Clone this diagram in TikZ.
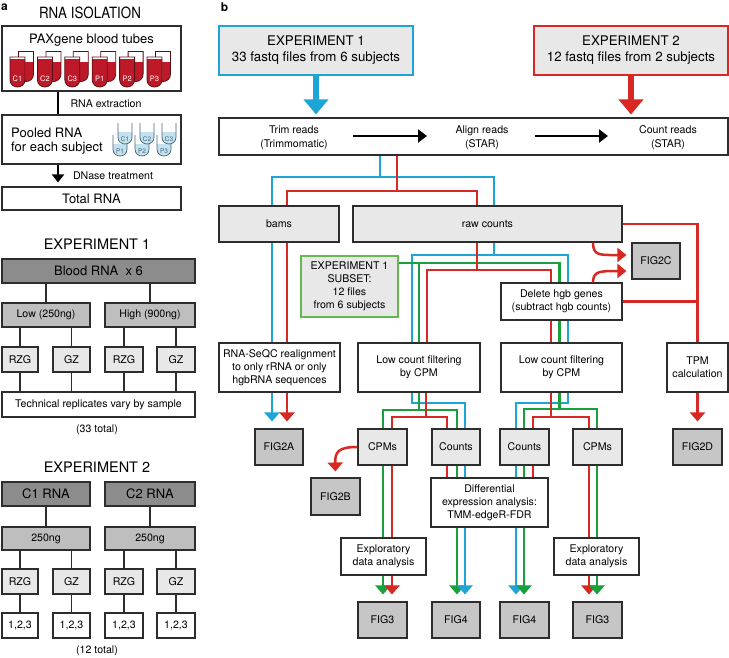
\documentclass[tikz,border=0pt]{standalone}
\usepackage{fontspec}
\setmainfont{TeX Gyre Heros}
\newfontfamily\condfont[FakeStretch=0.86]{TeX Gyre Heros}
\usetikzlibrary{arrows.meta}
\definecolor{blueL}{RGB}{30,165,215}
\definecolor{redL}{RGB}{215,40,35}
\definecolor{greenL}{RGB}{25,160,60}
\definecolor{greenB}{RGB}{100,185,80}
\definecolor{bord}{RGB}{45,45,45}
\definecolor{lgray}{RGB}{232,232,232}
\definecolor{fgray}{RGB}{198,198,198}
\definecolor{dgray}{RGB}{140,140,140}
\definecolor{mgray}{RGB}{190,190,190}
\definecolor{tubered}{RGB}{190,25,40}
\definecolor{tubeline}{RGB}{90,15,20}
\definecolor{ltblue}{RGB}{195,226,240}
\definecolor{tubeblue}{RGB}{70,100,120}
\newcommand\fsN{\fontsize{10.6}{12.8}\selectfont}
\newcommand\fsL{\fontsize{13}{14.5}\selectfont}
\newcommand\fsT{\fontsize{13.3}{16}\selectfont}
\newcommand\fsH{\fontsize{14.5}{16}\selectfont}
\newcommand\paxtube[3]{%
 \path[fill=white] (#1+8.5,#2-5.5) -- (#1+8.5,#2+17) .. controls (#1+8.5,#2+27) and (#1+23.5,#2+27) .. (#1+23.5,#2+17) -- (#1+23.5,#2-5.5) -- cycle;
 \fill[tubered] (#1+8.5,#2+5) -- (#1+8.5,#2+17) .. controls (#1+8.5,#2+27) and (#1+23.5,#2+27) .. (#1+23.5,#2+17) -- (#1+23.5,#2+5) -- cycle;
 \draw[tubeline,line width=0.8pt] (#1+8.5,#2-5.5) -- (#1+8.5,#2+17) .. controls (#1+8.5,#2+27) and (#1+23.5,#2+27) .. (#1+23.5,#2+17) -- (#1+23.5,#2-5.5) -- cycle;
 \path[fill=white] (#1,#2) -- (#1,#2+22.5) .. controls (#1,#2+32.5) and (#1+15,#2+32.5) .. (#1+15,#2+22.5) -- (#1+15,#2) -- cycle;
 \fill[tubered] (#1,#2+2) -- (#1,#2+22.5) .. controls (#1,#2+32.5) and (#1+15,#2+32.5) .. (#1+15,#2+22.5) -- (#1+15,#2+2) -- cycle;
 \draw[tubeline,line width=0.8pt] (#1,#2) -- (#1,#2+22.5) .. controls (#1,#2+32.5) and (#1+15,#2+32.5) .. (#1+15,#2+22.5) -- (#1+15,#2) -- cycle;
 \node[inner sep=0pt,font=\fontsize{7.5}{8}\selectfont,text=white] (lab#3) at (#1+7.5,#2+22) {#3};
}
\newcommand\smtube[3]{%
 \fill[white] (#1,#2) -- (#1,#2+14) .. controls (#1,#2+23.3) and (#1+14,#2+23.3) .. (#1+14,#2+14) -- (#1+14,#2) -- cycle;
 \fill[ltblue] (#1,#2+9) -- (#1,#2+14) .. controls (#1,#2+23.3) and (#1+14,#2+23.3) .. (#1+14,#2+14) -- (#1+14,#2+9) -- cycle;
 \draw[tubeblue,line width=0.7pt] (#1,#2) -- (#1,#2+14) .. controls (#1,#2+23.3) and (#1+14,#2+23.3) .. (#1+14,#2+14) -- (#1+14,#2);
 \node[inner sep=0pt,font=\fontsize{6.5}{7}\selectfont,text=tubeblue] (plab#3) at (#1+7,#2+16) {#3};
}
\tikzset{
 box/.style={draw=bord, line width=1.1pt, inner sep=1pt, align=center, font=\fsN, fill=white},
 lite/.style={box, fill=lgray},
 figb/.style={box, fill=fgray},
 darkb/.style={box, fill=dgray, font=\fsL},
 midb/.style={box, fill=mgray},
 sz/.style 2 args={minimum width=#1pt, minimum height=#2pt},
 txt/.style={inner sep=0pt, align=center, font=\fsN},
 ttl/.style={inner sep=0pt, font=\fsH},
 conn/.style={draw=bord, line width=1.1pt},
 cb/.style={draw=blueL, line width=2.5pt},
 cr/.style={draw=redL, line width=2.5pt},
 cg/.style={draw=greenL, line width=2.5pt},
 tip/.style={-{Triangle[width=15pt,length=9pt]}, shorten >=7pt},
 blk/.style={draw=black, line width=2.5pt},
}
\begin{document}
\begin{tikzpicture}[x=1pt,y=-1pt]
\useasboundingbox (0,0) rectangle (729,657);
\fill[white] (0,0) rectangle (729,657);

% ---------------- panel a ----------------
\node[inner sep=0pt,font=\bfseries\fontsize{12}{12}\selectfont] (lbla) at (4.5,7.5) {a};
\node[inner sep=0pt,font=\condfont\fontsize{15.5}{16}\selectfont] (tiso) at (90,13) {RNA ISOLATION};
\node[box, sz={179}{65}] (pax) at (91.5,58.5) {};
\node[txt, font=\fsL] (paxt) at (91.5,40) {PAXgene blood tubes};
\paxtube{10}{57}{C1}
\paxtube{37.4}{57}{C2}
\paxtube{64.8}{57}{C3}
\paxtube{92.2}{57}{P1}
\paxtube{119.6}{57}{P2}
\paxtube{147}{57}{P3}
\node[box, sz={179}{49}] (pool) at (91.5,139.5) {};
\node[txt, font=\fsL, align=left, anchor=west] (poolt) at (11,141) {Pooled RNA\\for each subject};
\smtube{113}{135}{P1}
\smtube{135}{135}{P2}
\smtube{157}{135}{P3}
\smtube{118}{123}{C1}
\smtube{140}{123}{C2}
\smtube{162}{123}{C3}
\node[box, sz={179}{23}, font=\fsL] (total) at (91.5,198.5) {Total RNA};
\node[txt] (rext) at (106,104) {RNA extraction};
\node[txt] (dnase) at (113,176) {DNase treatment};
\draw[blk] (pax.south -| 58,0) -- (pool.north -| 58,0);
\draw[blk, -{Triangle[width=12pt,length=8pt]}, shorten >=4pt] (pool.south -| 58,0) -- (total.north -| 58,0);

% Experiment 1 (left)
\node[ttl] (te1) at (97,244) {EXPERIMENT 1};
\node[darkb, sz={193}{24}] (blood) at (98.5,271) {Blood RNA\ \ x 6};
\node[midb, sz={88}{24}] (low) at (46,315) {Low (250ng)};
\node[midb, sz={90}{24}] (high) at (150,315) {High (900ng)};
\node[lite, sz={36}{25}] (rzgA) at (20,359.5) {RZG};
\node[lite, sz={37}{25}] (gzA) at (71.5,359.5) {GZ};
\node[lite, sz={38}{25}] (rzgB) at (124,359.5) {RZG};
\node[lite, sz={38}{25}] (gzB) at (176,359.5) {GZ};
\node[box, sz={193}{25}] (tech) at (98.5,404.5) {Technical replicates vary by sample};
\node[txt] (tot33) at (97,430) {(33 total)};
\draw[conn] (blood.south -| low.north) -- (low.north);
\draw[conn] (blood.south -| high.north) -- (high.north);
\draw[conn] (low.south -| rzgA.north) -- (rzgA.north);
\draw[conn] (low.south -| gzA.north) -- (gzA.north);
\draw[conn] (high.south -| rzgB.north) -- (rzgB.north);
\draw[conn] (high.south -| gzB.north) -- (gzB.north);
\foreach \n in {rzgA,gzA,rzgB,gzB}{\draw[conn] (\n.south) -- (tech.north -| \n.south);}

% Experiment 2 (left)
\node[ttl] (te2) at (97,467) {EXPERIMENT 2};
\node[darkb, sz={88}{24}] (cA) at (46,494) {C1 RNA};
\node[darkb, sz={90}{24}] (cB) at (150,494) {C2 RNA};
\node[midb, sz={88}{23}] (ngA) at (46,538.5) {250ng};
\node[midb, sz={90}{23}] (ngB) at (150,538.5) {250ng};
\node[lite, sz={36}{25}] (rzgC) at (20,581.5) {RZG};
\node[lite, sz={37}{25}] (gzC) at (71.5,581.5) {GZ};
\node[lite, sz={38}{25}] (rzgD) at (124,581.5) {RZG};
\node[lite, sz={38}{25}] (gzD) at (176,581.5) {GZ};
\node[box, sz={36}{25}] (nA) at (20,625.5) {1,2,3};
\node[box, sz={37}{25}] (nB) at (71.5,625.5) {1,2,3};
\node[box, sz={38}{25}] (nC) at (124,625.5) {1,2,3};
\node[box, sz={38}{25}] (nD) at (176,625.5) {1,2,3};
\node[txt] (tot12) at (97,651) {(12 total)};
\draw[conn] (cA.south) -- (ngA.north);
\draw[conn] (cB.south) -- (ngB.north);
\draw[conn] (ngA.south -| rzgC.north) -- (rzgC.north);
\draw[conn] (ngA.south -| gzC.north) -- (gzC.north);
\draw[conn] (ngB.south -| rzgD.north) -- (rzgD.north);
\draw[conn] (ngB.south -| gzD.north) -- (gzD.north);
\draw[conn] (rzgC.south) -- (nA.north);
\draw[conn] (gzC.south) -- (nB.north);
\draw[conn] (rzgD.south) -- (nC.north);
\draw[conn] (gzD.south) -- (nD.north);

% ---------------- panel b ----------------
\node[inner sep=0pt,font=\bfseries\fontsize{12}{12}\selectfont] (lblb) at (224.5,7.5) {b};
\node[box, fill=lgray, draw=blueL, line width=1.4pt, sz={194}{49}, font=\fsT] (exp1) at (316,50.5) {EXPERIMENT 1\\33 fastq files from 6 subjects};
\node[box, fill=lgray, draw=redL, line width=1.4pt, sz={194}{49}, font=\fsT] (exp2) at (631,50.5) {EXPERIMENT 2\\12 fastq files from 2 subjects};
\node[box, sz={509}{37}] (trim) at (473.5,136.5) {};
\node[txt, font=\fontsize{10.6}{14}\selectfont] (t1) at (294,138) {Trim reads\\(Trimmomatic)};
\node[txt, font=\fontsize{10.6}{14}\selectfont] (t2) at (482,138) {Align reads\\(STAR)};
\node[txt, font=\fontsize{10.6}{14}\selectfont] (t3) at (668,138) {Count reads\\(STAR)};
\coordinate (a1s) at (353,136);
\coordinate (a1e) at (427,136);
\coordinate (a2s) at (535,136);
\coordinate (a2e) at (608,136);
\draw[blk, -{Triangle[width=13pt,length=9pt]}] (a1s) -- (a1e);
\draw[blk, -{Triangle[width=13pt,length=9pt]}] (a2s) -- (a2e);
\draw[draw=blueL, line width=6.5pt, -{Triangle[width=24pt,length=15pt]}, shorten >=3pt] (exp1.south) -- (trim.north -| exp1.south);
\draw[draw=redL, line width=6.5pt, -{Triangle[width=24pt,length=15pt]}, shorten >=3pt] (exp2.south) -- (trim.north -| exp2.south);

\node[lite, sz={120}{36}] (bams) at (279,224) {bams};
\node[lite, sz={269}{36}] (raw) at (487.5,224) {raw counts};
\node[lite, draw=greenB, line width=1.4pt, sz={97}{61}, font=\fontsize{10.6}{13}\selectfont] (subset) at (349.5,286.5) {EXPERIMENT 1\\SUBSET:\\12 files\\from 6 subjects};
\node[figb, sz={48}{36}] (fig2c) at (656,261) {FIG2C};
\node[box, sz={121}{37}] (delete) at (561.5,301.5) {Delete hgb genes\\(subtract hgb counts)};
\node[box, sz={121}{49}, font=\fontsize{10.6}{13}\selectfont] (seqc) at (279.5,367.5) {RNA-SeQC realignment\\to only rRNA or only\\hgbRNA sequences};
\node[box, sz={122}{49}] (lcf1) at (419,367.5) {Low count filtering\\by CPM};
\node[box, sz={121}{49}] (lcf2) at (561.5,367.5) {Low count filtering\\by CPM};
\node[box, sz={61}{49}] (tpm) at (697.5,367.5) {TPM\\calculation};
\node[figb, sz={48}{36}] (fig2a) at (279,447) {FIG2A};
\node[lite, sz={49}{36}] (cpms1) at (382.5,447) {CPMs};
\node[lite, sz={48}{36}] (counts1) at (456,447) {Counts};
\node[lite, sz={49}{36}] (counts2) at (524.5,447) {Counts};
\node[lite, sz={49}{36}] (cpms2) at (597.5,447) {CPMs};
\node[figb, sz={49}{36}] (fig2d) at (697.5,447) {FIG2D};
\node[figb, sz={49}{37}] (fig2b) at (335.5,496.5) {FIG2B};
\node[box, sz={117}{49}] (diff) at (489.5,502.5) {Differential\\expression analysis:\\TMM-edgeR-FDR};
\node[box, sz={85}{37}] (expl1) at (383.5,556.5) {Exploratory\\data analysis};
\node[box, sz={85}{37}] (expl2) at (596.5,556.5) {Exploratory\\data analysis};
\node[figb, sz={49}{36}] (fig3a) at (382.5,620) {FIG3};
\node[figb, sz={48}{36}] (fig4a) at (456,620) {FIG4};
\node[figb, sz={49}{36}] (fig4b) at (524.5,620) {FIG4};
\node[figb, sz={49}{36}] (fig3b) at (597.5,620) {FIG3};

% trim -> bams / raw counts
\draw[cb] (trim.south -| 380,0) -- (380,177);
\draw[cb] (bams.north -| 272,0) |- (494,177) -- (raw.north -| 494,0);
\draw[cr] (trim.south -| 397,0) -- (397,191);
\draw[cr] (bams.north -| 287,0) |- (477,191) -- (raw.north -| 477,0);

% bams -> RNA-SeQC -> FIG2A
\draw[cb] (bams.south -| 272,0) -- (seqc.north -| 272,0);
\draw[cr] (bams.south -| 287,0) -- (seqc.north -| 287,0);
\draw[cb, tip] (seqc.south -| 272,0) -- (fig2a.north -| 272,0);
\draw[cr, tip] (seqc.south -| 287,0) -- (fig2a.north -| 287,0);

% raw counts -> filtering
\draw[cb] (raw.south -| 494,0) -- (494,255);
\draw[cb] (lcf1.north -| 412,0) |- (568,255) -- (delete.north -| 568,0);
\draw[cb] (delete.south -| 568,0) -- (lcf2.north -| 568,0);
\draw[cg] (lcf1.north -| 419,0) |- (subset.east |- 0,263);
\draw[cg] (419,263) -- (559.5,263) -- (delete.north -| 559.5,0);
\draw[cg] (delete.south -| 559.5,0) -- (lcf2.north -| 559.5,0);
\draw[cr] (raw.south -| 477,0) -- (477,270);
\draw[cr] (lcf1.north -| 427,0) |- (551,270) -- (delete.north -| 551,0);
\draw[cr] (delete.south -| 551,0) -- (lcf2.north -| 551,0);

% TPM and FIG2C
\draw[cr] (raw.east) -| (tpm.north);
\draw[cr] (delete.east) -- (delete.east -| tpm.north);
\draw[cr, tip] (tpm.south) -- (fig2d.north);
\draw[cr, -{Triangle[width=14pt,length=9pt]}, shorten >=5pt] (raw.south -| 593,0) .. controls (593,256) and (600,255) .. (fig2c.west |- 0,255);
\draw[cr, -{Triangle[width=14pt,length=9pt]}, shorten >=5pt] (delete.north -| 593,0) .. controls (593,271) and (600,271) .. (fig2c.west |- 0,271);

% lcf1 -> CPMs / Counts
\draw[cb] (lcf1.south -| 412,0) |- (465,403) -- (counts1.north -| 465,0);
\draw[cg] (lcf1.south -| 419,0) -- (419,410);
\draw[cg] (cpms1.north -| 383,0) |- (457,410) -- (counts1.north -| 457,0);
\draw[cr] (lcf1.south -| 426,0) -- (426,417);
\draw[cr] (cpms1.north -| 392,0) |- (447,417) -- (counts1.north -| 447,0);

% lcf2 -> Counts / CPMs
\draw[cb] (lcf2.south -| 568,0) |- (516,403) -- (counts2.north -| 516,0);
\draw[cg] (lcf2.south -| 559.5,0) -- (559.5,409);
\draw[cg] (counts2.north -| 524,0) |- (597,409) -- (cpms2.north -| 597,0);
\draw[cr] (lcf2.south -| 551,0) -- (551,417);
\draw[cr] (counts2.north -| 533,0) |- (589,417) -- (cpms2.north -| 589,0);

% CPMs1 -> FIG2B
\draw[cr, -{Triangle[width=15pt,length=9pt]}, shorten >=6pt] (cpms1.west) .. controls (338,447) and (335,452) .. (fig2b.north);

% CPMs1 -> exploratory -> FIG3
\draw[cg] (cpms1.south -| 383,0) -- (expl1.north -| 383,0);
\draw[cr] (cpms1.south -| 392,0) -- (expl1.north -| 392,0);
\draw[cg, tip] (expl1.south -| 383,0) -- (fig3a.north -| 383,0);
\draw[cr, tip] (expl1.south -| 392,0) -- (fig3a.north -| 392,0);

% Counts1 -> diff -> FIG4
\draw[cr] (counts1.south -| 447,0) -- (diff.north -| 447,0);
\draw[cg] (counts1.south -| 457,0) -- (diff.north -| 457,0);
\draw[cb] (counts1.south -| 465,0) -- (diff.north -| 465,0);
\draw[cg, tip] (diff.south -| 457,0) -- (fig4a.north -| 457,0);
\draw[cb, tip] (diff.south -| 465,0) -- (fig4a.north -| 465,0);

% Counts2 -> diff -> FIG4
\draw[cb] (counts2.south -| 516,0) -- (diff.north -| 516,0);
\draw[cg] (counts2.south -| 524,0) -- (diff.north -| 524,0);
\draw[cr] (counts2.south -| 533,0) -- (diff.north -| 533,0);
\draw[cb, tip] (diff.south -| 516,0) -- (fig4b.north -| 516,0);
\draw[cg, tip] (diff.south -| 524,0) -- (fig4b.north -| 524,0);

% CPMs2 -> exploratory -> FIG3
\draw[cr] (cpms2.south -| 589,0) -- (expl2.north -| 589,0);
\draw[cg] (cpms2.south -| 597,0) -- (expl2.north -| 597,0);
\draw[cr, tip] (expl2.south -| 589,0) -- (fig3b.north -| 589,0);
\draw[cg, tip] (expl2.south -| 597,0) -- (fig3b.north -| 597,0);
\end{tikzpicture}
\end{document}
